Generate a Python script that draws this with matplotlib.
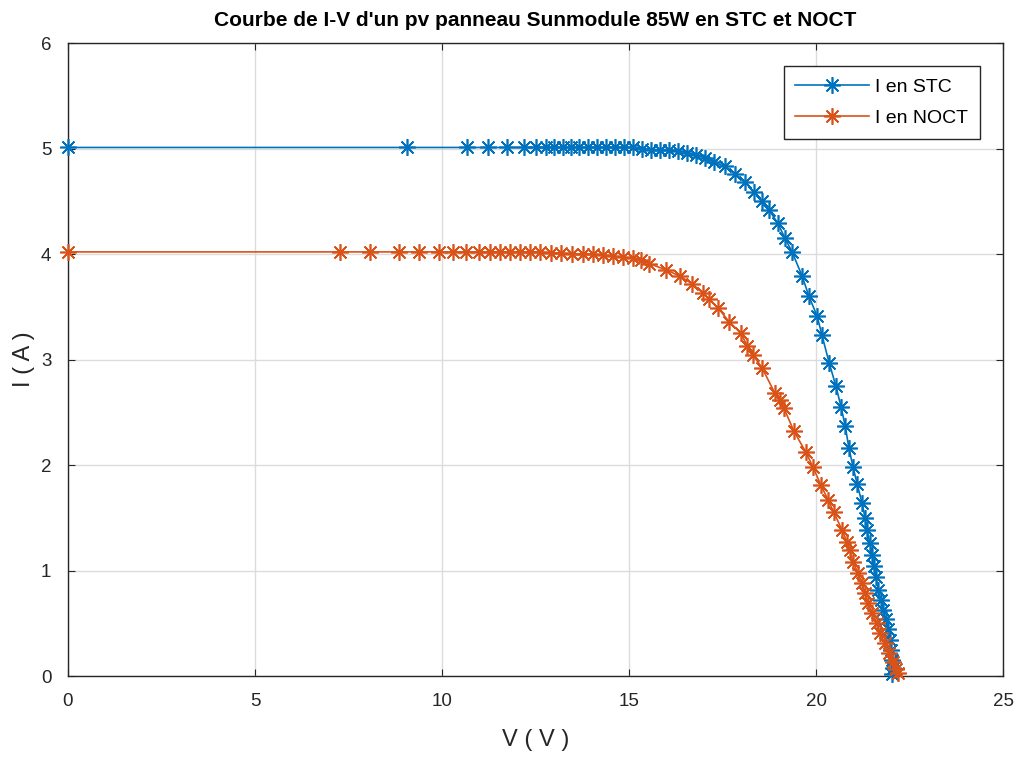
import numpy as np
import matplotlib.pyplot as plt

plt.rcParams['font.family'] = ['Liberation Sans', 'DejaVu Sans']

# courbe I-V en STC
V_stc = [0, 9.06, 10.67, 11.23, 11.74, 12.19, 12.51, 12.78, 12.99, 13.24, 13.45, 13.66,
         13.90, 14.14, 14.39, 14.63, 14.87, 15.11, 15.35, 15.59, 15.83, 16.07, 16.31,
         16.55, 16.79, 17.03, 17.27, 17.57, 17.83, 18.10, 18.34, 18.56, 18.74, 18.98,
         19.17, 19.36, 19.63, 19.81, 20.03, 20.16, 20.35, 20.53, 20.67, 20.78, 20.88,
         20.99, 21.10, 21.23, 21.31, 21.36, 21.44, 21.50, 21.55, 21.60, 21.66, 21.74,
         21.79, 21.87, 21.93, 21.98, 22.01, 22.04, 22.05, 22.03]
I_stc = [5.01, 5.01, 5.01, 5.01, 5.01, 5.01, 5.01, 5.01, 5.01, 5.01, 5.01, 5.01,
         5.01, 5.01, 5.01, 5.01, 5.01, 5.01, 5.00, 4.99, 4.99, 4.99, 4.98,
         4.96, 4.94, 4.91, 4.87, 4.83, 4.76, 4.68, 4.59, 4.50, 4.42, 4.29,
         4.15, 4.02, 3.79, 3.60, 3.41, 3.23, 2.97, 2.75, 2.55, 2.37, 2.16,
         1.98, 1.82, 1.64, 1.50, 1.38, 1.26, 1.15, 1.04, 0.94, 0.82, 0.72,
         0.63, 0.54, 0.45, 0.34, 0.25, 0.15, 0.08, 0.02]

# courbe I-V en NOCT
V_noct = [0, 7.27, 8.07, 8.85, 9.39, 9.92, 10.29, 10.64, 10.99, 11.28, 11.55, 11.82,
          12.09, 12.35, 12.62, 12.91, 13.18, 13.48, 13.77, 14.04, 14.30, 14.57, 14.84,
          15.11, 15.32, 15.53, 15.99, 16.36, 16.68, 16.98, 17.14, 17.38, 17.67, 17.99,
          18.16, 18.32, 18.56, 18.90, 19.04, 19.14, 19.41, 19.73, 19.92, 20.13, 20.32,
          20.48, 20.70, 20.83, 20.91, 20.99, 21.12, 21.23, 21.31, 21.39, 21.50, 21.63,
          21.71, 21.84, 21.95, 22.06, 22.14, 22.19]
I_noct = [4.02, 4.02, 4.02, 4.02, 4.02, 4.02, 4.02, 4.02, 4.02, 4.02, 4.02, 4.02,
          4.02, 4.02, 4.02, 4.01, 4.01, 4.00, 4.00, 4.00, 3.99, 3.98, 3.97,
          3.96, 3.94, 3.91, 3.85, 3.79, 3.72, 3.63, 3.57, 3.49, 3.36, 3.25,
          3.13, 3.04, 2.92, 2.68, 2.62, 2.54, 2.32, 2.12, 1.98, 1.81, 1.67,
          1.55, 1.38, 1.27, 1.19, 1.08, 0.98, 0.88, 0.79, 0.69, 0.60, 0.50,
          0.41, 0.31, 0.22, 0.13, 0.07, 0.03]

fig = plt.figure(figsize=(10.21, 7.6), dpi=100)
ax = fig.add_axes([0.0666, 0.1105, 0.9158, 0.8329])

star = (8, 2, 0)  # asterisque facon matlab
ax.plot(V_stc, I_stc, '-', marker=star, color='#0072BD', lw=1.2, ms=12, mew=1.2,
        label='I en STC', clip_on=False, zorder=3)
ax.plot(V_noct, I_noct, '-', marker=star, color='#D95319', lw=1.2, ms=12, mew=1.2,
        label='I en NOCT', clip_on=False, zorder=3)

ax.set_xlim(0, 25)
ax.set_ylim(0, 6)
ax.set_xticks([0, 5, 10, 15, 20, 25])
ax.set_yticks([0, 1, 2, 3, 4, 5, 6])
ax.grid(True, color='#dcdcdc', lw=1)
ax.set_axisbelow(True)
ax.tick_params(direction='in', top=True, right=True, labelsize=13.5, colors='#262626', length=5)
ax.tick_params(axis='x', pad=12)
ax.tick_params(axis='y', pad=12)
for s in ax.spines.values():
    s.set_color('#262626')
    s.set_linewidth(1)

ax.set_xlabel('V ( V )', fontsize=17, color='#262626', labelpad=14)
ax.set_ylabel('I ( A )', fontsize=17, color='#262626', labelpad=4)
ax.set_title("Courbe de I-V d'un pv panneau Sunmodule 85W en STC et NOCT",
             fontsize=15, fontweight='bold', pad=12)

leg = ax.legend(loc='upper right', fontsize=14, fancybox=False, framealpha=1,
                edgecolor='#262626', borderaxespad=1.2, handlelength=3.8,
                labelspacing=0.7, borderpad=0.6, handletextpad=0.3)
leg.get_frame().set_linewidth(1)

plt.savefig('out.png', dpi=100)
